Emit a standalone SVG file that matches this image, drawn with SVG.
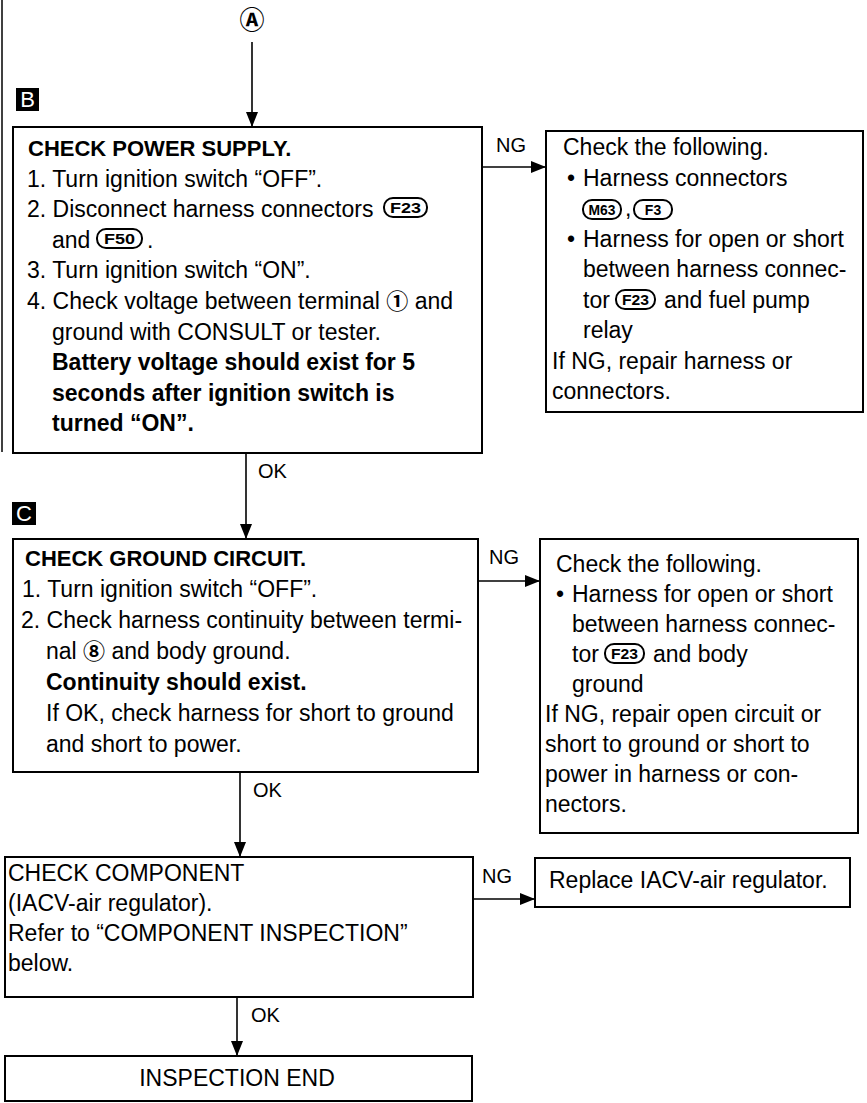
<svg xmlns="http://www.w3.org/2000/svg" width="867" height="1103" viewBox="0 0 867 1103">
<style>
.t{font-family:"Liberation Sans",Arial,sans-serif;font-size:23px;fill:#000}
.b{font-weight:bold;font-size:22px}
.bl{font-weight:bold;font-size:23px}
.lbl{font-family:"Liberation Sans",Arial,sans-serif;font-size:20px;fill:#000}
.box{fill:#fff;stroke:#000;stroke-width:2}
.pill{fill:#fff;stroke:#000;stroke-width:2}
.pt{font-family:"Liberation Sans",Arial,sans-serif;font-weight:bold;font-size:14px;text-anchor:middle;fill:#000}
.circ{font-family:"Noto Sans CJK JP",sans-serif;font-size:22px;font-weight:bold}
.conn{fill:none;stroke:#000;stroke-width:1.6}
.tag{fill:#000}
.tagt{font-family:"Liberation Sans",Arial,sans-serif;font-size:22px;fill:#fff;text-anchor:middle}
</style>
<defs>
<marker id="ah" markerUnits="userSpaceOnUse" markerWidth="15" markerHeight="12" refX="15" refY="6" orient="auto">
<path d="M0,0 L15,6 L0,12 z" fill="#000"/>
</marker>
</defs>
<rect width="867" height="1103" fill="#fff"/>

<g id="connectors">
<line x1="2" y1="0" x2="2" y2="452" stroke="#000" stroke-width="1.5"/>
<line class="conn" x1="252" y1="42" x2="252" y2="127" marker-end="url(#ah)"/>
<line class="conn" x1="482" y1="167" x2="546" y2="167" marker-end="url(#ah)"/>
<text class="lbl" x="496" y="152">NG</text>
<line class="conn" x1="246" y1="453" x2="246" y2="539" marker-end="url(#ah)"/>
<text class="lbl" x="258" y="478">OK</text>
<line class="conn" x1="478" y1="581" x2="540" y2="581" marker-end="url(#ah)"/>
<text class="lbl" x="489" y="564">NG</text>
<line class="conn" x1="240" y1="772" x2="240" y2="857" marker-end="url(#ah)"/>
<text class="lbl" x="253" y="797">OK</text>
<line class="conn" x1="473" y1="899" x2="535" y2="899" marker-end="url(#ah)"/>
<text class="lbl" x="482" y="883">NG</text>
<line class="conn" x1="237" y1="997" x2="237" y2="1056" marker-end="url(#ah)"/>
<text class="lbl" x="251" y="1022">OK</text>
</g>

<g id="nodeA">
<text x="252" y="29" font-family="Noto Sans CJK JP,sans-serif" font-size="25" font-weight="bold" text-anchor="middle">Ⓐ</text>
</g>

<g id="tagB">
<rect class="tag" x="16" y="88" width="23" height="23"/>
<text class="tagt" x="27.5" y="107">B</text>
</g>

<g id="nodeB">
<rect class="box" x="13" y="127" width="469" height="326"/>
<text class="t b" x="28" y="156">CHECK POWER SUPPLY.</text>
<text class="t" x="27" y="187">1. Turn ignition switch “OFF”.</text>
<text class="t" x="27" y="217">2. Disconnect harness connectors</text>
<rect class="pill" x="384" y="198" width="43" height="19" rx="9"/>
<text class="pt" x="405.5" y="213" textLength="31" lengthAdjust="spacingAndGlyphs">F23</text>
<text class="t" x="52" y="248">and</text>
<rect class="pill" x="97" y="229" width="45" height="19" rx="9"/>
<text class="pt" x="119.5" y="244" textLength="31" lengthAdjust="spacingAndGlyphs">F50</text>
<text class="t" x="147" y="248">.</text>
<text class="t" x="27" y="278">3. Turn ignition switch “ON”.</text>
<text class="t" x="27" y="309">4. Check voltage between terminal <tspan class="circ">①</tspan> and</text>
<text class="t" x="52" y="340">ground with CONSULT or tester.</text>
<text class="t bl" x="52" y="370">Battery voltage should exist for 5</text>
<text class="t bl" x="52" y="401">seconds after ignition switch is</text>
<text class="t bl" x="52" y="431">turned “ON”.</text>
</g>

<g id="nodeB_NG">
<rect class="box" x="546" y="131" width="317" height="281"/>
<text class="t" x="563" y="155">Check the following.</text>
<text class="t" x="567" y="186">•</text>
<text class="t" x="583" y="186">Harness connectors</text>
<rect class="pill" x="583" y="200" width="38" height="19" rx="9"/>
<text class="pt" x="602" y="215" textLength="27" lengthAdjust="spacingAndGlyphs">M63</text>
<text class="t" x="625" y="216">,</text>
<rect class="pill" x="634" y="200" width="38" height="19" rx="9"/>
<text class="pt" x="653" y="215">F3</text>
<text class="t" x="567" y="247">•</text>
<text class="t" x="583" y="247">Harness for open or short</text>
<text class="t" x="583" y="277">between harness connec-</text>
<text class="t" x="583" y="308">tor</text>
<rect class="pill" x="616" y="290" width="39" height="19" rx="9"/>
<text class="pt" x="635.5" y="305" textLength="27" lengthAdjust="spacingAndGlyphs">F23</text>
<text class="t" x="664" y="308">and fuel pump</text>
<text class="t" x="583" y="338">relay</text>
<text class="t" x="552" y="369">If NG, repair harness or</text>
<text class="t" x="552" y="399">connectors.</text>
</g>

<g id="tagC">
<rect class="tag" x="12" y="502" width="24" height="23"/>
<text class="tagt" x="24" y="521">C</text>
</g>

<g id="nodeC">
<rect class="box" x="13" y="539" width="465" height="233"/>
<text class="t b" x="25" y="566">CHECK GROUND CIRCUIT.</text>
<text class="t" x="22" y="597">1. Turn ignition switch “OFF”.</text>
<text class="t" x="21" y="628">2. Check harness continuity between termi-</text>
<text class="t" x="46" y="659">nal <tspan class="circ">⑧</tspan> and body ground.</text>
<text class="t bl" x="46" y="690">Continuity should exist.</text>
<text class="t" x="46" y="721">If OK, check harness for short to ground</text>
<text class="t" x="46" y="752">and short to power.</text>
</g>

<g id="nodeC_NG">
<rect class="box" x="540" y="539" width="318" height="294"/>
<text class="t" x="556" y="572">Check the following.</text>
<text class="t" x="556" y="602">•</text>
<text class="t" x="572" y="602">Harness for open or short</text>
<text class="t" x="572" y="632">between harness connec-</text>
<text class="t" x="572" y="662">tor</text>
<rect class="pill" x="605" y="644" width="39" height="19" rx="9"/>
<text class="pt" x="624.5" y="659" textLength="27" lengthAdjust="spacingAndGlyphs">F23</text>
<text class="t" x="653" y="662">and body</text>
<text class="t" x="572" y="692">ground</text>
<text class="t" x="545" y="722">If NG, repair open circuit or</text>
<text class="t" x="545" y="752">short to ground or short to</text>
<text class="t" x="545" y="782">power in harness or con-</text>
<text class="t" x="545" y="812">nectors.</text>
</g>

<g id="nodeD">
<rect class="box" x="5" y="857" width="468" height="140"/>
<text class="t" x="8" y="881">CHECK COMPONENT</text>
<text class="t" x="8" y="911">(IACV-air regulator).</text>
<text class="t" x="8" y="941">Refer to “COMPONENT INSPECTION”</text>
<text class="t" x="8" y="971">below.</text>
</g>

<g id="nodeD_NG">
<rect class="box" x="535" y="858" width="315" height="49"/>
<text class="t" x="549" y="888">Replace IACV-air regulator.</text>
</g>

<g id="nodeE">
<rect class="box" x="5" y="1056" width="467" height="45"/>
<text class="t" x="237" y="1086" text-anchor="middle">INSPECTION END</text>
</g>
</svg>
